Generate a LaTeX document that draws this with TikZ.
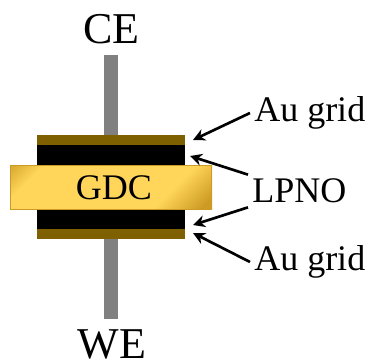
\documentclass[tikz,border=0pt]{standalone}
\usepackage{fontspec}
\setmainfont{Liberation Serif}
\usetikzlibrary{arrows.meta}
\definecolor{augold}{RGB}{127,96,0}
\definecolor{gdcyellow}{RGB}{255,214,90}
\definecolor{gdcdark}{RGB}{205,155,35}
\definecolor{rodgray}{RGB}{128,128,128}
\pgfdeclarehorizontalshading{gdcglow}{100bp}{color(0bp)=(gdcdark); color(12bp)=(gdcdark); color(24bp)=(gdcyellow); color(68bp)=(gdcyellow); color(82bp)=(gdcdark); color(100bp)=(gdcdark)}
\tikzset{
	lbl/.style={font=\fontsize{27}{27}\selectfont, inner sep=3pt},
	biglbl/.style={font=\fontsize{33}{33}\selectfont, inner sep=0pt},
	pointer/.style={-{Stealth[length=9pt,width=9pt]}, line width=2pt},
}
\begin{document}
\begin{tikzpicture}[x=0.75pt,y=-0.75pt]
	\useasboundingbox (0,0) rectangle (372,363);
	% rods to the electrodes
	\fill[rodgray] (104,55) rectangle (118,135);
	\fill[rodgray] (104,239) rectangle (118,319);
	% layers
	\fill[augold] (37,135) rectangle (185,145);
	\fill[black] (37,145) rectangle (185,166);
	\fill[black] (37,210) rectangle (185,229);
	\fill[augold] (37,229) rectangle (185,239);
	% electrolyte
	\shade[shading=gdcglow, shading angle=-45] (10,166) rectangle (212,210);
	\draw[gdcdark, line width=0.75pt] (10.5,166) rectangle (211.5,210);
	\node[lbl] (gdc) at (114,188) {GDC};
	% labels
	\node[biglbl] (ce) at (111.5,29) {CE};
	\node[biglbl, anchor=base] (we) at (112,359) {WE};
	\node[lbl, anchor=west] (augridtop) at (250,113) {Au grid};
	\node[lbl, anchor=west] (lpno) at (248,191) {LPNO};
	\node[lbl, anchor=west] (augridbot) at (250,262) {Au grid};
	% arrow ends at the stack
	\coordinate (topau) at (193,140);
	\coordinate (toplp) at (190,156);
	\coordinate (botlp) at (193,225);
	\coordinate (botau) at (193,233);
	\draw[pointer] (augridtop.west) -- (topau);
	\draw[pointer] (lpno.north west) -- (toplp);
	\draw[pointer] (lpno.south west) -- (botlp);
	\draw[pointer] (augridbot.west) -- (botau);
\end{tikzpicture}
\end{document}
